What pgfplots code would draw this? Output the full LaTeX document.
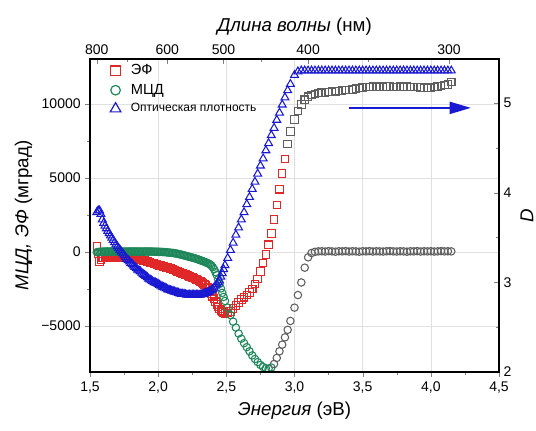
\documentclass[border=0pt]{standalone}
\usepackage{fontspec}
\setmainfont{Liberation Sans}
\usepackage{pgfplots}
\pgfplotsset{compat=1.18}
\usepackage{pgfplotstable}
\usetikzlibrary{arrows.meta}

\definecolor{cred}{RGB}{225,40,40}
\definecolor{cgreen}{RGB}{30,135,90}
\definecolor{cblue}{RGB}{25,25,210}
\definecolor{cgray}{RGB}{95,95,95}

\pgfplotstableread{
E EF MCD D
1.55 390 0 3.78
1.57 -630 20 3.80
1.59 -380 30 3.70
1.61 -360 40 3.63
1.63 -350 40 3.57
1.65 -360 40 3.52
1.67 -360 40 3.47
1.69 -360 40 3.42
1.71 -360 40 3.38
1.73 -370 40 3.34
1.75 -380 40 3.30
1.77 -400 40 3.26
1.79 -420 40 3.23
1.81 -440 40 3.20
1.83 -460 40 3.17
1.85 -480 40 3.14
1.87 -500 40 3.12
1.89 -550 40 3.09
1.91 -610 40 3.07
1.93 -670 40 3.04
1.95 -720 40 3.02
1.97 -780 30 3.00
1.99 -830 30 2.99
2.01 -890 20 2.97
2.03 -940 10 2.95
2.05 -1000 0 2.94
2.07 -1050 -20 2.92
2.09 -1110 -40 2.91
2.11 -1180 -60 2.90
2.13 -1260 -90 2.89
2.15 -1330 -130 2.88
2.17 -1400 -170 2.87
2.19 -1480 -220 2.87
2.21 -1560 -270 2.86
2.23 -1630 -320 2.86
2.25 -1710 -370 2.86
2.27 -1800 -420 2.86
2.29 -1890 -480 2.86
2.31 -1990 -550 2.86
2.33 -2110 -620 2.87
2.35 -2250 -690 2.88
2.37 -2450 -770 2.89
2.39 -2800 -900 2.91
2.41 -3150 -1150 2.94
2.43 -3550 -1550 2.98
2.45 -3850 -2150 3.02
2.47 -4020 -2750 3.10
2.49 -4130 -3300 3.19
2.51 -4120 -3750 3.27
2.53 -4000 -4250 3.36
2.55 -3800 -4700 3.44
2.57 -3600 -5100 3.53
2.59 -3400 -5500 3.61
2.61 -3200 -5850 3.70
2.63 -3050 -6150 3.78
2.65 -2900 -6420 3.87
2.67 -2720 -6700 3.95
2.69 -2480 -6980 4.04
2.71 -2150 -7220 4.12
2.73 -1800 -7430 4.21
2.75 -1300 -7620 4.30
2.77 -750 -7760 4.38
2.79 -150 -7850 4.47
2.81 500 -7870 4.55
2.83 1250 -7800 4.64
2.85 2200 -7560 4.72
2.87 3200 -7150 4.81
2.89 4250 -6700 4.89
2.91 5300 -6250 4.98
2.93 6300 -5760 5.06
2.95 7300 -5250 5.14
2.97 8150 -4650 5.21
3.000 8950 -3750 5.31
3.025 9550 -2900 5.35
3.050 9980 -2050 5.36
3.075 10300 -1050 5.36
3.100 10500 -350 5.36
3.125 10620 -60 5.36
3.150 10700 20 5.36
3.175 10740 50 5.36
3.200 10770 60 5.36
3.225 10800 40 5.36
3.250 10820 70 5.36
3.275 10840 50 5.36
3.300 10870 30 5.36
3.325 10890 60 5.36
3.350 10910 50 5.36
3.375 10940 70 5.36
3.400 10960 40 5.36
3.425 10990 60 5.36
3.450 11040 50 5.36
3.475 11090 30 5.36
3.500 11120 60 5.36
3.525 11150 50 5.36
3.550 11170 70 5.36
3.575 11180 40 5.36
3.600 11170 60 5.36
3.625 11190 50 5.36
3.650 11160 40 5.36
3.675 11180 60 5.36
3.700 11200 70 5.36
3.725 11170 50 5.36
3.750 11150 40 5.36
3.775 11180 60 5.36
3.800 11170 50 5.36
3.825 11190 30 5.36
3.850 11160 60 5.36
3.875 11150 50 5.36
3.900 11170 70 5.36
3.925 11130 40 5.36
3.950 11110 60 5.36
3.975 11100 50 5.36
4.000 11110 60 5.36
4.025 11150 40 5.36
4.050 11200 50 5.36
4.075 11240 70 5.36
4.100 11280 50 5.36
4.125 11320 60 5.36
4.150 11500 50 5.36
1.56 -100 10 3.80
1.58 -500 25 3.76
1.60 -370 35 3.66
1.62 -355 40 3.60
1.64 -355 40 3.545
1.66 -360 40 3.495
1.68 -360 40 3.445
1.70 -360 40 3.40
1.72 -365 40 3.36
1.74 -375 40 3.32
1.76 -390 40 3.28
1.78 -410 40 3.245
1.80 -430 40 3.215
1.82 -450 40 3.185
1.84 -470 40 3.155
1.86 -490 40 3.13
1.88 -525 40 3.105
1.90 -580 40 3.08
1.92 -640 40 3.055
1.94 -695 40 3.03
1.96 -750 35 3.01
1.98 -805 30 2.995
2.00 -860 25 2.98
2.02 -915 15 2.96
2.04 -970 5 2.945
2.06 -1025 -10 2.93
2.08 -1080 -30 2.915
2.10 -1145 -50 2.905
2.12 -1220 -75 2.895
2.14 -1295 -110 2.885
2.16 -1365 -150 2.875
2.18 -1440 -195 2.87
2.20 -1520 -245 2.865
2.22 -1595 -295 2.86
2.24 -1670 -345 2.86
2.26 -1755 -395 2.86
2.28 -1845 -450 2.86
2.30 -1940 -515 2.86
2.32 -2050 -585 2.865
2.34 -2180 -655 2.875
2.36 -2350 -730 2.885
2.38 -2620 -835 2.90
2.40 -2980 -1020 2.925
2.42 -3350 -1350 2.96
2.44 -3700 -1850 3.00
2.46 -3940 -2450 3.06
2.48 -4080 -3030 3.145
}\data

\begin{document}
\begin{tikzpicture}
\begin{axis}[
  scale only axis, width=306.75pt, height=234.75pt,
  xmin=1.5, xmax=4.5, ymin=-8100, ymax=13050,
  xtick pos=bottom, ytick pos=left,
  xtick={1.5,2.0,2.5,3.0,3.5,4.0,4.5}, minor x tick num=1,
  ytick={-5000,0,5000,10000}, yticklabels={−5000,0,5000,10000}, minor y tick num=1,
  scaled y ticks=false, scaled x ticks=false,
  tick align=outside,
  major tick length=3.5pt, minor tick length=2pt,
  /pgf/number format/assume math mode=true,
  xticklabel style={/pgf/number format/.cd,fixed,fixed zerofill,precision=1,use comma},
  tick label style={font=\fontsize{10.5}{12}\selectfont},
  label style={font=\fontsize{14}{16}\selectfont},
  xlabel={\textit{Энергия} (эВ)},
  ylabel={\textit{МЦД, ЭФ} (мград)},
  grid=major, grid style={black!12, line width=0.4pt},
  axis line style={line width=0.8pt},
  mark options={solid, line width=0.8pt},
]
\addplot[only marks, mark=square, mark size=2.8pt, cred, restrict x to domain=1.5:2.94] table[x=E,y=EF]{\data};
\addplot[only marks, mark=square, mark size=2.8pt, cgray, restrict x to domain=2.94:4.2] table[x=E,y=EF]{\data};
\addplot[only marks, mark=o, mark size=2.8pt, cgreen, restrict x to domain=1.5:2.84] table[x=E,y=MCD]{\data};
\addplot[only marks, mark=o, mark size=2.8pt, cgray, restrict x to domain=2.84:4.2] table[x=E,y=MCD]{\data};
\end{axis}
\begin{axis}[
  scale only axis, width=306.75pt, height=234.75pt,
  xmin=1.5, xmax=4.5, ymin=2, ymax=5.49,
  xtick pos=top, ytick pos=right,
  xticklabel pos=top, yticklabel pos=right,
  xtick={1.55,2.0667,2.48,3.1,4.1333}, xticklabels={800,600,500,400,300},
  minor xtick={1.7714,2.7556,3.5429},
  ytick={2,3,4,5}, minor y tick num=1,
  scaled y ticks=false, scaled x ticks=false,
  tick align=inside,
  major tick length=3.5pt, minor tick length=2pt,
  /pgf/number format/assume math mode=true,
  tick label style={font=\fontsize{10.5}{12}\selectfont},
  label style={font=\fontsize{14}{16}\selectfont},
  xlabel={\textit{Длина волны} (нм)},
  ylabel={\textit{D}},
  axis line style={line width=0.8pt},
  mark options={solid, line width=0.8pt},
  legend style={at={(0,1)}, anchor=north west, xshift=12pt, yshift=-0.5pt, draw=none, fill=none,
    font=\fontsize{11}{13}\selectfont, row sep=2.5pt, column sep=6pt, nodes={inner sep=1.5pt}},
  legend cell align=left,
]
\addlegendimage{only marks, mark=square, mark size=3.6pt, cred, mark options={line width=0.9pt}}
\addlegendentry{ЭФ}
\addlegendimage{only marks, mark=o, mark size=3.6pt, cgreen, mark options={line width=0.9pt}}
\addlegendentry{МЦД}
\addlegendimage{only marks, mark=triangle, mark size=4.6pt, cblue, mark options={line width=0.9pt}}
\addlegendentry{\fontsize{9}{10}\selectfont Оптическая плотность}
\addplot[only marks, mark=triangle, mark size=3.4pt, cblue, forget plot] table[x=E,y=D]{\data};
\draw[cblue, line width=1.6pt, -{Triangle[length=16pt,width=9pt]}] (axis cs:3.397,4.945) -- (axis cs:4.294,4.945);
\end{axis}
\pgfresetboundingbox
\path[use as bounding box] (-67.5pt,-43.5pt) rectangle (334.5pt,279pt);
\end{tikzpicture}
\end{document}
